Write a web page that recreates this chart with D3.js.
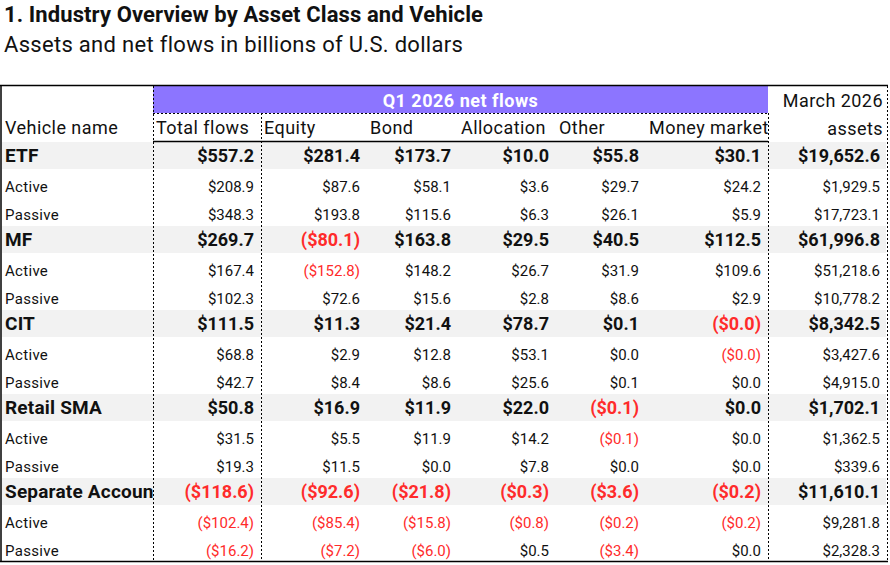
<!DOCTYPE html>
<html lang="en">
  <head>
    <meta charset="UTF-8" />
    <title>Industry Overview by Asset Class and Vehicle</title>
    <script src="https://cdn.jsdelivr.net/npm/d3@7/dist/d3.min.js"></script>
    <style>
      body {
        margin: 0;
        background-color: #ffffff;
        font-family: "Roboto", sans-serif;
      }
    </style>
  </head>
  <body>
    <div id="overview_table"></div>

    <script>
      // Rows: vehicle total, then Active / Passive
      const vehicles = ["ETF", "MF", "CIT", "Retail SMA", "Separate Accounts"];
      const subRows = ["Active", "Passive"];

      const flowColumns = ["Total flows", "Equity", "Bond", "Allocation", "Other", "Money market"];

      const totalFlows = [557.2, 208.9, 348.3, 269.7, 167.4, 102.3, 111.5, 68.8, 42.7, 50.8, 31.5, 19.3, -118.6, -102.4, -16.2];
      const equity = [281.4, 87.6, 193.8, -80.1, -152.8, 72.6, 11.3, 2.9, 8.4, 16.9, 5.5, 11.5, -92.6, -85.4, -7.2];
      const bond = [173.7, 58.1, 115.6, 163.8, 148.2, 15.6, 21.4, 12.8, 8.6, 11.9, 11.9, 0.0, -21.8, -15.8, -6.0];
      const allocation = [10.0, 3.6, 6.3, 29.5, 26.7, 2.8, 78.7, 53.1, 25.6, 22.0, 14.2, 7.8, -0.3, -0.8, 0.5];
      const other = [55.8, 29.7, 26.1, 40.5, 31.9, 8.6, 0.1, 0.0, 0.1, -0.1, -0.1, 0.0, -3.6, -0.2, -3.4];
      const moneyMarket = [30.1, 24.2, 5.9, 112.5, 109.6, 2.9, -0, -0, 0.0, 0.0, 0.0, 0.0, -0.2, -0.2, 0.0];
      const marchAssets = [19652.6, 1929.5, 17723.1, 61996.8, 51218.6, 10778.2, 8342.5, 3427.6, 4915.0, 1702.1, 1362.5, 339.6, 11610.1, 9281.8, 2328.3];

      drawTable();

      function drawTable() {
        const element_id = "div#overview_table";
        d3.select(element_id).select("svg").remove();

        const width = 890;
        const height = 565;

        const svg = d3
          .select(element_id)
          .append("svg")
          .attr("width", width)
          .attr("height", height);

        // table frame
        const left = 1,
          right = 887,
          top = 86,
          bottom = 561,
          bandTop = 113,
          headBottom = 142;

        const columnValues = [totalFlows, equity, bond, allocation, other, moneyMarket, marchAssets];
        const columnKeys = flowColumns.concat(["assets"]);

        // column edges
        const x = d3
          .scaleOrdinal()
          .domain(["label"].concat(columnKeys))
          .range([left, 153, 261, 367, 458, 556, 646, 768]);
        const colRight = (k) => {
          const i = columnKeys.indexOf(k);
          return i < columnKeys.length - 1 ? x(columnKeys[i + 1]) : right;
        };

        // row list built from vehicles
        const rows = [];
        vehicles.forEach((v) => {
          rows.push({ label: v, main: true });
          subRows.forEach((s) => rows.push({ label: s, main: false }));
        });

        const y = d3
          .scaleBand()
          .domain(d3.range(rows.length))
          .range([headBottom, bottom + 1]);

        const isNeg = (v) => v < 0 || Object.is(v, -0);
        const fmt = d3.format("$,.1f");
        const showValue = (v) => (isNeg(v) ? "(" + fmt(Math.abs(v)) + ")" : fmt(v));

        const red = "#ff2b2b";
        const ink = "#111111";

        // Title
        svg
          .append("text")
          .attr("x", 4)
          .attr("y", 22)
          .attr("fill", ink)
          .style("font-size", "22px")
          .style("font-weight", "700")
          .style("letter-spacing", "0.1px")
          .text("1. Industry Overview by Asset Class and Vehicle");
        svg
          .append("text")
          .attr("x", 4)
          .attr("y", 52)
          .attr("fill", ink)
          .style("font-size", "22px")
          .style("letter-spacing", "0.3px")
          .text("Assets and net flows in billions of U.S. dollars");

        // grey bands for vehicle rows
        svg
          .selectAll("rect.band")
          .data(rows.map((r, i) => ({ ...r, i })).filter((r) => r.main))
          .enter()
          .append("rect")
          .attr("class", "band")
          .attr("x", left + 1)
          .attr("y", (d) => y(d.i))
          .attr("width", right - left - 2)
          .attr("height", y.bandwidth() - 1)
          .attr("fill", "#f2f2f2");

        // purple header
        svg
          .append("rect")
          .attr("x", x("Total flows"))
          .attr("y", top)
          .attr("width", x("assets") - x("Total flows"))
          .attr("height", bandTop - top)
          .attr("fill", "#8c75ff");
        svg
          .append("text")
          .attr("x", (x("Total flows") + x("assets")) / 2)
          .attr("y", 107)
          .attr("text-anchor", "middle")
          .attr("fill", "#ffffff")
          .style("font-size", "18px")
          .style("font-weight", "700")
          .style("letter-spacing", "0.5px")
          .text("Q1 2026 net flows");

        // clip paths for columns
        const defs = svg.append("defs");
        columnKeys.forEach((k, i) => {
          defs
            .append("clipPath")
            .attr("id", `clip-col-${i}`)
            .append("rect")
            .attr("x", x(k))
            .attr("y", 0)
            .attr("width", colRight(k) - x(k))
            .attr("height", height);
        });
        defs
          .append("clipPath")
          .attr("id", "clip-label")
          .append("rect")
          .attr("x", 0)
          .attr("y", 0)
          .attr("width", x("Total flows"))
          .attr("height", height);

        // header labels
        const heads = svg
          .append("g")
          .style("font-size", "18px")
          .style("letter-spacing", "0.45px")
          .attr("fill", ink);
        heads.append("text").attr("x", 5).attr("y", 134).text("Vehicle name");
        heads
          .append("g")
          .selectAll("text")
          .data(flowColumns)
          .enter()
          .append("text")
          .attr("clip-path", (d, i) => `url(#clip-col-${i})`)
          .attr("x", (d) => x(d) + 3)
          .attr("y", 134)
          .text((d) => d);
        heads
          .append("text")
          .attr("x", right - 4)
          .attr("y", 107)
          .attr("text-anchor", "end")
          .text("March 2026");
        heads
          .append("text")
          .attr("x", right - 4)
          .attr("y", 135)
          .attr("text-anchor", "end")
          .text("assets");

        // row labels
        svg
          .append("g")
          .attr("clip-path", "url(#clip-label)")
          .selectAll("text")
          .data(rows)
          .enter()
          .append("text")
          .attr("x", 5)
          .attr("y", (d, i) => y(i) + (d.main ? 20 : 22))
          .attr("fill", ink)
          .style("font-size", (d) => (d.main ? "19px" : "15px"))
          .style("font-weight", (d) => (d.main ? "700" : "400"))
          .style("letter-spacing", (d) => (d.main ? "0.2px" : "0.3px"))
          .text((d) => d.label);

        // values
        columnKeys.forEach((k, ci) => {
          svg
            .append("g")
            .selectAll("text")
            .data(columnValues[ci])
            .enter()
            .append("text")
            .attr("x", colRight(k) - 7)
            .attr("y", (d, i) => y(i) + (rows[i].main ? 20 : 22))
            .attr("text-anchor", "end")
            .attr("fill", (d) => (isNeg(d) ? red : ink))
            .style("font-size", (d, i) => (rows[i].main ? "18px" : "15px"))
            .style("font-weight", (d, i) => (rows[i].main ? "700" : "400"))
            .text((d) => showValue(d));
        });

        // lines
        const dotted = (x1, y1, x2, y2) =>
          svg
            .append("line")
            .attr("x1", x1)
            .attr("y1", y1)
            .attr("x2", x2)
            .attr("y2", y2)
            .attr("stroke", "#000")
            .attr("stroke-width", 1)
            .attr("stroke-dasharray", "2,2");
        const solid = (x1, y1, x2, y2) =>
          svg
            .append("line")
            .attr("x1", x1)
            .attr("y1", y1)
            .attr("x2", x2)
            .attr("y2", y2)
            .attr("stroke", "#000")
            .attr("stroke-width", 1.5);

        dotted(x("Total flows") + 0.5, top, x("Total flows") + 0.5, bottom);
        dotted(x("Equity") + 0.5, bandTop, x("Equity") + 0.5, bottom);
        dotted(x("assets") + 0.5, bandTop, x("assets") + 0.5, bottom);
        dotted(x("Total flows"), bandTop + 0.5, x("assets"), bandTop + 0.5);
        dotted(right + 0.5, top, right + 0.5, bottom);
        solid(x("Total flows"), headBottom - 0.5, x("assets"), headBottom - 0.5);

        solid(0, top - 0.5, right + 1, top - 0.5);
        solid(left, top, left, bottom);
        solid(0, bottom + 0.5, right + 1, bottom + 0.5);
      }
    </script>
  </body>
</html>
